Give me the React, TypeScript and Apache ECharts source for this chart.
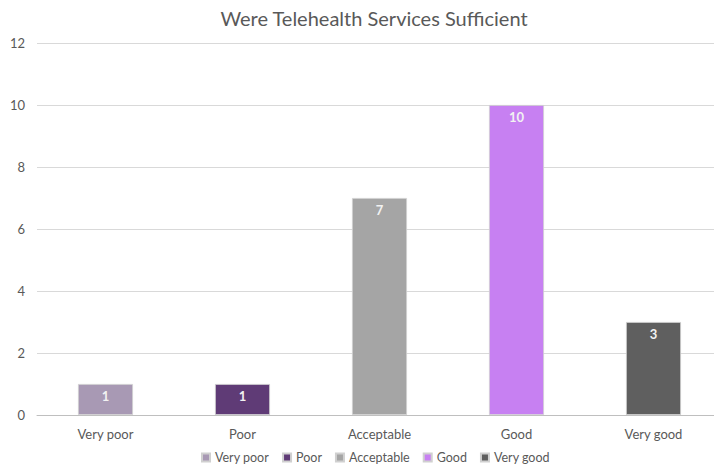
import React, { useEffect, useRef } from "react";
import * as echarts from "echarts";

const categories = ["Very poor", "Poor", "Acceptable", "Good", "Very good"];
const values = [1, 1, 7, 10, 3];
const colors = ["#A899B4", "#5F3B76", "#A5A5A5", "#C780F2", "#5F5F5F"];
const yTicks = { min: 0, max: 12, interval: 2 };
const title = "Were Telehealth Services Sufficient";

export default function App() {
  const ref = useRef<HTMLDivElement>(null);
  useEffect(() => {
    if (!ref.current) return;
    const chart = echarts.init(ref.current, undefined, { renderer: "svg" });
    const font = "Lato, 'Open Sans', sans-serif";
    const series = categories.map((name, i) => ({
      name,
      type: "bar",
      stack: "all",
      barWidth: 55,
      data: categories.map((_, j) => (j === i ? values[i] : null)),
      itemStyle: { color: colors[i], borderColor: "#D0D0D0", borderWidth: 0.8 },
      label: {
        show: true,
        position: "insideTop",
        distance: 5,
        color: "#F2F2F2",
        fontFamily: font,
        fontWeight: "bold",
        fontSize: 13,
      },
    }));
    chart.setOption({
      animation: false,
      title: {
        text: title,
        left: 369,
        textAlign: "center",
        top: 3,
        textStyle: { fontFamily: font, fontSize: 20, fontWeight: "normal", color: "#595959" },
      },
      legend: {
        bottom: 0,
        left: 196,
        itemWidth: 8,
        itemHeight: 8,
        itemGap: 13,
        icon: "rect",
        textStyle: { fontFamily: font, fontSize: 12.5, color: "#595959" },
        data: categories,
      },
      grid: { left: 37, right: 0, top: 43, bottom: 54, containLabel: false, outerBoundsMode: "none" },
      xAxis: {
        type: "category",
        data: categories,
        axisTick: { show: false },
        axisLine: { lineStyle: { color: "#BFBFBF", width: 1 } },
        axisLabel: { fontFamily: font, fontSize: 13, color: "#595959", margin: 12 },
      },
      yAxis: {
        type: "value",
        min: yTicks.min,
        max: yTicks.max,
        interval: yTicks.interval,
        axisLine: { show: false },
        axisTick: { show: false },
        splitLine: { lineStyle: { color: "#D9D9D9", width: 1 } },
        axisLabel: { fontFamily: font, fontSize: 13, color: "#595959", margin: 12 },
      },
      series,
    });
    return () => chart.dispose();
  }, []);
  return (
    <div
      style={{ position: "fixed", left: 0, top: 0, width: 714, height: 469, overflow: "hidden", background: "#fff" }}
    >
      <div ref={ref} style={{ width: 722, height: 469 }} />
    </div>
  );
}
